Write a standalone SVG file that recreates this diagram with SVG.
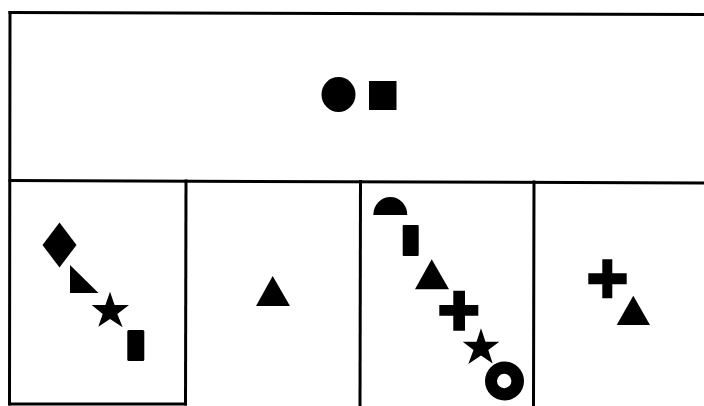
<svg xmlns="http://www.w3.org/2000/svg" width="704" height="406" viewBox="0 0 704 406">
<style>
.ln{stroke:#000;stroke-width:3;fill:none;stroke-linecap:square}
.sh{fill:#000;stroke:none}
</style>
<rect width="704" height="406" fill="#fff"/>
<g id="frame">
<line class="ln" x1="10" y1="12.5" x2="704" y2="14.5"/>
<line class="ln" x1="10" y1="12.5" x2="9.5" y2="404"/>
<line class="ln" x1="10" y1="180.5" x2="704" y2="183"/>
<line class="ln" x1="186" y1="181" x2="185.5" y2="404"/>
<line class="ln" x1="360.5" y1="181.5" x2="360" y2="406"/>
<line class="ln" x1="534" y1="182" x2="533.5" y2="406"/>
<line class="ln" x1="10" y1="404" x2="185" y2="404"/>
</g>
<g id="top-panel">
<ellipse class="sh" cx="338.5" cy="94.5" rx="17" ry="17.5"/>
<rect class="sh" x="369" y="81" width="27.5" height="29"/>
</g>
<g id="panel-1">
<polygon class="sh" points="59.5,222.5 76.5,245 59.5,267.5 42.5,245"/>
<polygon class="sh" points="70,265 70,293 98.5,293"/>
<polygon class="sh" points="110,291.7 114.6,305 129,305 117.3,314 122.7,327.3 110,319 98.3,326.7 102.7,314 91.7,305 105.4,305"/>
<rect class="sh" x="127.3" y="330" width="17" height="31" rx="1.5"/>
</g>
<g id="panel-2">
<polygon class="sh" points="272.7,276 290,306 256,306"/>
</g>
<g id="panel-3">
<path class="sh" d="M373.3,215 A17,18 0 0 1 407.3,215 Z"/>
<rect class="sh" x="402.7" y="225" width="16" height="31" rx="1"/>
<polygon class="sh" points="431.7,259.3 449,289.3 415,289.3"/>
<path class="sh" d="M453.3,290.7 H465 V305 H478.3 V315.7 H465 V330.7 H453.3 V315.7 H439.3 V305 H453.3 Z"/>
<polygon class="sh" points="481,328.3 485.5,341.7 499.3,341.7 488.3,350 492.7,363.5 481,355.5 468.3,364 473.5,350 462.7,341.7 476.5,341.7"/>
<path class="sh" fill-rule="evenodd" d="M485,381 a19.5,19.5 0 1 0 39,0 a19.5,19.5 0 1 0 -39,0 Z M497,381 a7.2,7.2 0 1 0 14.4,0 a7.2,7.2 0 1 0 -14.4,0 Z"/>
</g>
<g id="panel-4">
<path class="sh" d="M602.3,259.3 H612.3 V273.3 H626.7 V284.3 H612.3 V298.3 H602.3 V284.3 H588.3 V273.3 H602.3 Z"/>
<polygon class="sh" points="633.3,295.7 650,325 616.7,325"/>
</g>
</svg>
